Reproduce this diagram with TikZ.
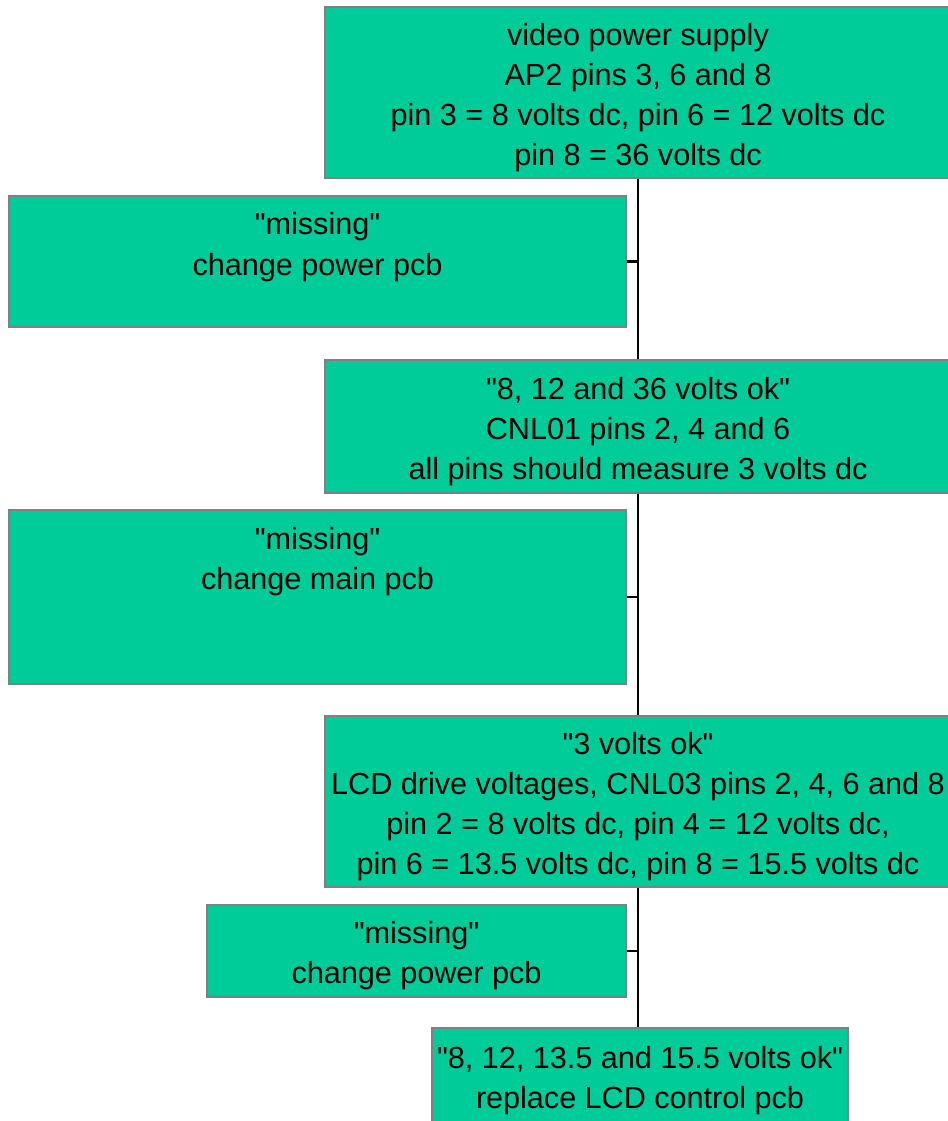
\documentclass[tikz,border=0pt]{standalone}
\usepackage{fontspec}
\setmainfont{Liberation Sans}
\usepackage{xcolor}
\usepackage{tikz}
\usetikzlibrary{positioning}
\definecolor{boxfill}{HTML}{00CC99}
\definecolor{boxstroke}{HTML}{808080}
\newcommand{\testw}{6.26cm}
\newcommand{\missw}{6.17cm}
\newcommand{\q}[1]{\textquotedbl#1\textquotedbl}
\newcommand{\topgap}{\rule{0pt}{9pt}}
\newcommand{\botgap}[1]{\rule[-#1]{0pt}{#1}}
\tikzset{
    testbox/.style={rectangle, draw=boxstroke, fill=boxfill, line width=0.6pt,
    minimum width=\testw, align=center, inner sep=1pt,
    font=\fontsize{8.7}{11.4}\selectfont},
    missbox/.style={rectangle, draw=boxstroke, fill=boxfill, line width=0.6pt,
    minimum width=\missw, align=center, inner sep=1pt,
    font=\fontsize{8.7}{11.4}\selectfont},
    trunk/.style={black, line width=0.6pt},
}
\begin{document}
\begin{tikzpicture}[y=1cm, x=1cm]
\useasboundingbox (0,0) rectangle (9.47,-11.21);

% =========================================================
% Main test chain
% =========================================================

        \node[testbox, minimum height=1.71cm] (supply) at (6.38,-0.925)
            {\topgap video power supply\\AP2 pins 3, 6 and 8\\pin 3 = 8 volts dc, pin 6 = 12 volts dc\\pin 8 = 36 volts dc};
        \node[testbox, minimum height=1.33cm] (cnl01) at (6.38,-4.265)
            {\topgap\q{8, 12 and 36 volts ok}\\CNL01 pins 2, 4 and 6\\all pins should measure 3 volts dc};
        \node[testbox, minimum height=1.71cm] (cnl03) at (6.38,-8.015)
            {\topgap\q{3 volts ok}\\LCD drive voltages, CNL03 pins 2, 4, 6 and 8\\pin 2 = 8 volts dc, pin 4 = 12 volts dc,\\pin 6 = 13.5 volts dc, pin 8 = 15.5 volts dc};
        \node[testbox, minimum width=4.16cm, minimum height=0.95cm] (lcdpcb) at (6.40,-10.755)
            {\topgap\q{8, 12, 13.5 and 15.5 volts ok}\\replace LCD control pcb};

% =========================================================
% Fault branches
% =========================================================

        \node[missbox, minimum height=1.31cm] (miss1) at (3.175,-2.615)
            {\topgap\q{missing}\\change power pcb\botgap{12.7pt}};
        \node[missbox, minimum height=1.74cm] (miss2) at (3.175,-5.97)
            {\topgap\q{missing}\\change main pcb\botgap{24.9pt}};
        \node[missbox, minimum width=4.19cm, minimum height=0.92cm] (miss3) at (4.165,-9.51)
            {\topgap\q{missing}\\change power pcb};

% connectors
        \draw[trunk] (supply.south) -- (supply.south |- cnl01.north);
        \draw[trunk] (cnl01.south) -- (cnl01.south |- cnl03.north);
        \draw[trunk] (cnl03.south) -- (cnl03.south |- lcdpcb.north);
        \draw[trunk] (miss1.east) -- (miss1.east -| supply.south);
        \draw[trunk] (miss2.east) -- (miss2.east -| supply.south);
        \draw[trunk] (miss3.east) -- (miss3.east -| supply.south);

\end{tikzpicture}
\end{document}
